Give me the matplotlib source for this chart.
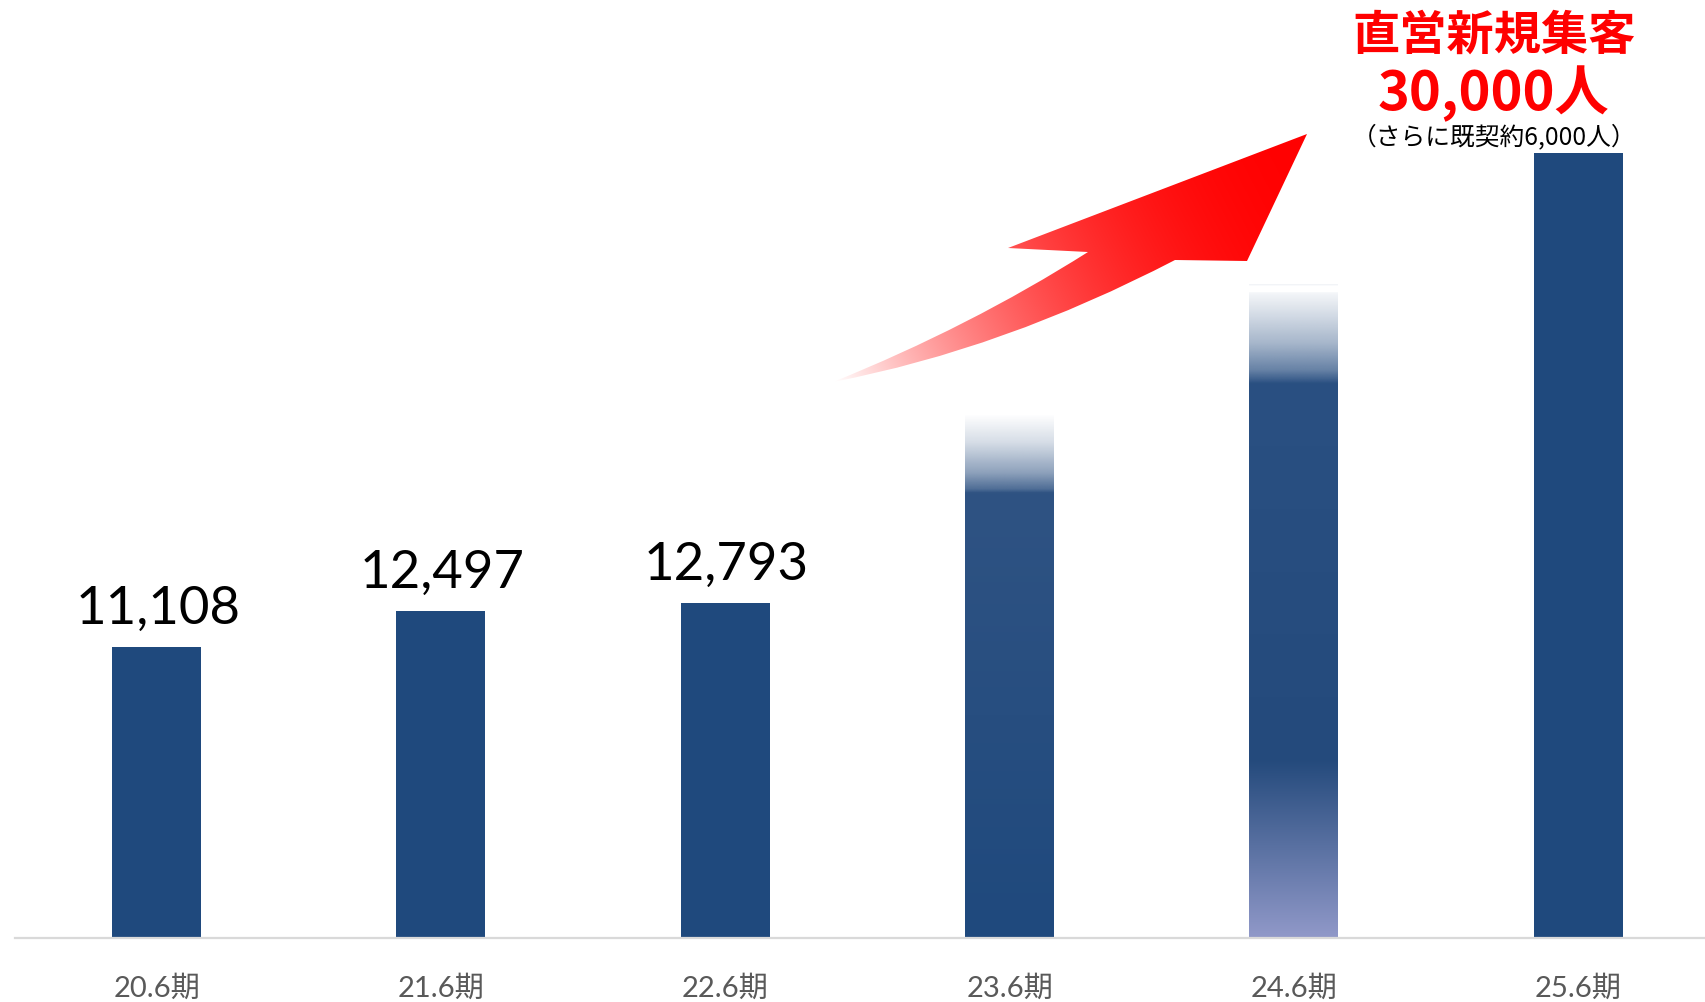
import numpy as np
import matplotlib
matplotlib.use("Agg")
import matplotlib.pyplot as plt
from matplotlib.path import Path
from matplotlib.patches import PathPatch
from matplotlib.colors import to_rgb

# ---- data -------------------------------------------------------------
periods = ["20.6期", "21.6期", "22.6期", "23.6期", "24.6期", "25.6期"]
customers = [11108, 12497, 12793, 20000, 25000, 30000]
value_labels = ["11,108", "12,497", "12,793", "", "", ""]
headline = "直営新規集客"
target_text = "30,000人"
target_note = "（さらに既契約6,000人）"

# ---- style ------------------------------------------------------------
BAR = "#1f497d"
NUM_FONT = ["Lato", "DejaVu Sans"]
TICK_FONT = ["Lato", "Noto Sans CJK JP", "DejaVu Sans"]
CJK_FONT = ["Noto Sans CJK JP", "DejaVu Sans"]

W, H = 1705, 1002
fig = plt.figure(figsize=(W / 100, H / 100), dpi=100)
fig.patch.set_facecolor("white")

ax = fig.add_axes([15 / W, (H - 938) / H, (W - 15) / W, 938 / H])
x = np.arange(len(periods))
bars = ax.bar(x, customers, width=0.313, color=BAR, zorder=1)


def gradient_fill(bar, stops):
    """Replace a bar's flat fill by a vertical gradient.
    stops: (fraction of bar height, colour, alpha) from bottom to top."""
    x0, w, h = bar.get_x(), bar.get_width(), bar.get_height()
    n = 3000
    fr = np.linspace(0, 1, n)
    fs = [s[0] for s in stops]
    rgba = np.zeros((n, 1, 4))
    cols = [to_rgb(s[1]) for s in stops]
    for c in range(3):
        rgba[:, 0, c] = np.interp(fr, fs, [col[c] for col in cols])
    rgba[:, 0, 3] = np.interp(fr, fs, [s[2] for s in stops])
    bar.set_facecolor("none")
    im = ax.imshow(rgba, extent=(x0, x0 + w, 0, h), origin="lower",
                   aspect="auto", interpolation="bilinear", zorder=1)
    im.set_clip_path(bar)


# 23.6期: fades out towards the top
gradient_fill(bars[3], [
    (0.0, "#1f497d", 1.0),
    (0.85, "#2f5383", 1.0),
    (0.857, "#2f5383", 0.85),
    (0.888, "#2f5383", 0.55),
    (0.946, "#2f5383", 0.2),
    (1.0, "#2f5383", 0.0),
])
# 24.6期: light base, faded top with a thin cap line
gradient_fill(bars[4], [
    (0.0, "#9199c9", 1.0),
    (0.272, "#244a7c", 1.0),
    (0.847, "#2a5082", 1.0),
    (0.867, "#2a5082", 0.72),
    (0.908, "#2a5082", 0.42),
    (0.959, "#2a5082", 0.17),
    (0.986, "#2a5082", 0.05),
    (0.9861, "#2a5082", 0.0),
    (0.9965, "#2a5082", 0.0),
    (0.9966, "#2a5082", 0.06),
    (1.0, "#2a5082", 0.06),
])

ax.set_xlim(-0.498, 5.446)
ax.set_ylim(0, 35842)

for spine in ["top", "right", "left"]:
    ax.spines[spine].set_visible(False)
ax.spines["bottom"].set_color("#d9d9d9")
ax.spines["bottom"].set_linewidth(1.6)
ax.spines["bottom"].set_zorder(3)
ax.set_yticks([])
ax.set_xticks(x)
ax.set_xticklabels(periods, family=TICK_FONT, fontsize=21, color="#595959")
ax.tick_params(axis="x", length=0, pad=27)
ax.patch.set_alpha(0)

for xi, v, lab in zip(x, customers, value_labels):
    if lab:
        ax.annotate(lab, (xi, v), xytext=(1, 16.5), textcoords="offset points",
                    ha="center", va="baseline", fontsize=38,
                    family=NUM_FONT, fontweight="normal", color="black")

# ---- overlay in pixel coordinates for the arrow and headline ----------
ov = fig.add_axes([0, 0, 1, 1])
ov.set_xlim(0, W)
ov.set_ylim(H, 0)
ov.axis("off")
ov.patch.set_alpha(0)

tail = (833, 382)
notch_up = (1088, 252)
barb = (1008, 248)
tip = (1307, 134)
head_low = (1247, 261)
notch_low = (1175, 260)
verts = [tail, (969.5, 327), notch_up, barb, tip, head_low, notch_low,
         (1004, 349), tail, tail]
codes = [Path.MOVETO, Path.CURVE3, Path.CURVE3, Path.LINETO, Path.LINETO,
         Path.LINETO, Path.LINETO, Path.CURVE3, Path.CURVE3, Path.CLOSEPOLY]
arrow = PathPatch(Path(verts, codes), facecolor="none", edgecolor="none")
ov.add_patch(arrow)

gx0, gx1, gy0, gy1 = 820, 1320, 120, 395
gx, gy = np.meshgrid(np.arange(gx0, gx1), np.arange(gy0, gy1))
d = np.array([tip[0] - tail[0], tip[1] - tail[1]], dtype=float)
t = ((gx - tail[0]) * d[0] + (gy - tail[1]) * d[1]) / (d @ d)
t = np.clip(t, 0, 1)
alpha = 1 - (1 - t) ** 2.2
img = np.zeros(gx.shape + (4,))
img[..., 0] = 1.0
img[..., 3] = alpha
im = ov.imshow(img, extent=(gx0, gx1, gy1, gy0), origin="upper",
               aspect="auto", interpolation="bilinear", zorder=2)
im.set_clip_path(arrow)
ov.set_xlim(0, W)
ov.set_ylim(H, 0)

ov.text(1494, 36, headline, ha="center", va="center", fontsize=34,
        family=CJK_FONT, fontweight="bold", color="#ff0000")
ov.text(1493, 94, target_text, ha="center", va="center", fontsize=39,
        family=CJK_FONT, fontweight="bold", color="#ff0000")
ov.text(1494, 137, target_note, ha="center", va="center", fontsize=17.8,
        family=CJK_FONT, color="black")

fig.savefig("out.png", dpi=100, facecolor="white")
